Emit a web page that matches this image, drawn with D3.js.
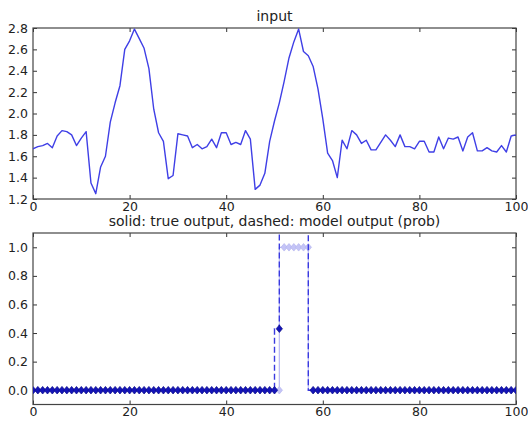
<!DOCTYPE html>
<html>
<head>
<meta charset="utf-8">
<script src="https://cdn.jsdelivr.net/npm/d3@7"></script>
<style>
  body { margin: 0; background: #fff; }
  svg { display: block; font-family: "DejaVu Sans", sans-serif; }
</style>
</head>
<body>
<svg id="chart"></svg>
<script>
const W = 528, H = 421

// input signal, one value per step 0..100
const inputValues = [
    1.67, 1.69, 1.70, 1.72, 1.68, 1.79, 1.84, 1.83, 1.80, 1.70,
    1.77, 1.83, 1.35, 1.25, 1.50, 1.60, 1.92, 2.10, 2.26, 2.60,
    2.68, 2.79, 2.70, 2.61, 2.42, 2.04, 1.82, 1.74, 1.39, 1.42,
    1.81, 1.80, 1.79, 1.68, 1.71, 1.67, 1.69, 1.76, 1.68, 1.82,
    1.82, 1.71, 1.73, 1.71, 1.84, 1.76, 1.29, 1.33, 1.44, 1.74,
    1.93, 2.10, 2.30, 2.52, 2.67, 2.79, 2.58, 2.54, 2.44, 2.23,
    1.95, 1.63, 1.56, 1.40, 1.75, 1.67, 1.84, 1.80, 1.72, 1.75,
    1.66, 1.66, 1.73, 1.80, 1.75, 1.69, 1.80, 1.69, 1.69, 1.67,
    1.74, 1.74, 1.64, 1.64, 1.78, 1.67, 1.77, 1.76, 1.78, 1.65,
    1.78, 1.82, 1.65, 1.65, 1.68, 1.65, 1.64, 1.70, 1.64, 1.79,
    1.80
]

// true output: on between 52 and 57
const trueOutput = d3.range(101).map(i => (i >= 52 && i <= 57) ? 1 : 0)

// model output (prob); the 52..57 values run off the top of the axes
const modelOutput = d3.range(101).map(i => {
    if (i === 51) return 0.43
    if (i >= 52 && i <= 57) return 1.5
    return 0
})

const xTicks = [0, 20, 40, 60, 80, 100]
const inputYTicks = [1.2, 1.4, 1.6, 1.8, 2.0, 2.2, 2.4, 2.6, 2.8]
const outputYTicks = [0.0, 0.2, 0.4, 0.6, 0.8, 1.0]

const svg = d3.select('#chart')
    .attr('width', W)
    .attr('height', H)

function makeAxes(box, yDomain, yTicks, title, id) {
    const x = d3.scaleLinear().domain([0, 100]).range([box.left, box.right])
    const y = d3.scaleLinear().domain(yDomain).range([box.bottom, box.top])

    svg.append('clipPath').attr('id', id)
        .append('rect')
        .attr('x', box.left).attr('y', box.top)
        .attr('width', box.right - box.left).attr('height', box.bottom - box.top)

    // ticks point inward on all four sides
    const tl = 4
    const g = svg.append('g')
    g.append('g').attr('transform', `translate(0,${box.bottom})`)
        .call(d3.axisBottom(x).tickValues(xTicks).tickSize(-tl).tickPadding(3).tickFormat(d3.format('d')))
    g.append('g').attr('transform', `translate(0,${box.top})`)
        .call(d3.axisTop(x).tickValues(xTicks).tickSize(-tl).tickFormat(''))
    g.append('g').attr('transform', `translate(${box.left},0)`)
        .call(d3.axisLeft(y).tickValues(yTicks).tickSize(-tl).tickPadding(5).tickFormat(d3.format('.1f')))
    g.append('g').attr('transform', `translate(${box.right},0)`)
        .call(d3.axisRight(y).tickValues(yTicks).tickSize(-tl).tickFormat(''))
    g.selectAll('.domain').remove()
    g.selectAll('.tick line').attr('stroke', '#333')
    g.selectAll('.tick text')
        .attr('fill', '#222')
        .style('font-size', '12.5px')
        .style('font-family', '"DejaVu Sans", sans-serif')

    svg.append('rect')
        .attr('x', box.left).attr('y', box.top)
        .attr('width', box.right - box.left).attr('height', box.bottom - box.top)
        .attr('fill', 'none')
        .attr('stroke', '#444')
        .attr('stroke-width', 1.2)

    svg.append('text')
        .attr('x', (box.left + box.right) / 2)
        .attr('y', box.top - 7)
        .attr('text-anchor', 'middle')
        .attr('fill', '#222')
        .style('font-size', '14px')
        .text(title)

    const plot = svg.append('g').attr('clip-path', `url(#${id})`)
    return { x, y, plot }
}

// ---- top: input ----
const inAx = makeAxes({ left: 33, right: 516, top: 28, bottom: 199 }, [1.2, 2.8], inputYTicks, 'input', 'clipTop')

inAx.plot.append('path')
    .datum(inputValues)
    .attr('fill', 'none')
    .attr('stroke', '#3f3fe6')
    .attr('stroke-width', 1.4)
    .attr('stroke-linejoin', 'round')
    .attr('d', d3.line().x((d, i) => inAx.x(i)).y(d => inAx.y(d)))

// ---- bottom: true vs model output ----
const outAx = makeAxes({ left: 33, right: 516, top: 233, bottom: 404.5 }, [-0.1, 1.1], outputYTicks,
    'solid: true output, dashed: model output (prob)', 'clipBot')

const stepLine = d3.line()
    .x((d, i) => outAx.x(i))
    .y(d => outAx.y(d))
    .curve(d3.curveStepBefore)

const diamond = 'M0,-3.8L3.2,0L0,3.8L-3.2,0Z'

// true output, drawn faint
outAx.plot.append('path')
    .datum(trueOutput)
    .attr('fill', 'none')
    .attr('stroke', '#b8b8f4')
    .attr('stroke-width', 1.2)
    .attr('d', stepLine)
outAx.plot.selectAll('.trueMark')
    .data(trueOutput)
    .join('path')
    .attr('class', 'trueMark')
    .attr('d', diamond)
    .attr('transform', (d, i) => `translate(${outAx.x(i)},${outAx.y(d)})`)
    .attr('fill', '#c4c4f6')
    .attr('stroke', '#b0b0ee')
    .attr('stroke-width', 0.6)

// model output, dashed
outAx.plot.append('path')
    .datum(modelOutput)
    .attr('fill', 'none')
    .attr('stroke', '#3a3ae0')
    .attr('stroke-width', 1.4)
    .attr('stroke-dasharray', '6,3')
    .attr('d', stepLine)
outAx.plot.selectAll('.modelMark')
    .data(modelOutput)
    .join('path')
    .attr('class', 'modelMark')
    .attr('d', diamond)
    .attr('transform', (d, i) => `translate(${outAx.x(i)},${outAx.y(d)})`)
    .attr('fill', '#1414b8')
    .attr('stroke', '#0a0a80')
    .attr('stroke-width', 0.6)
</script>
</body>
</html>
